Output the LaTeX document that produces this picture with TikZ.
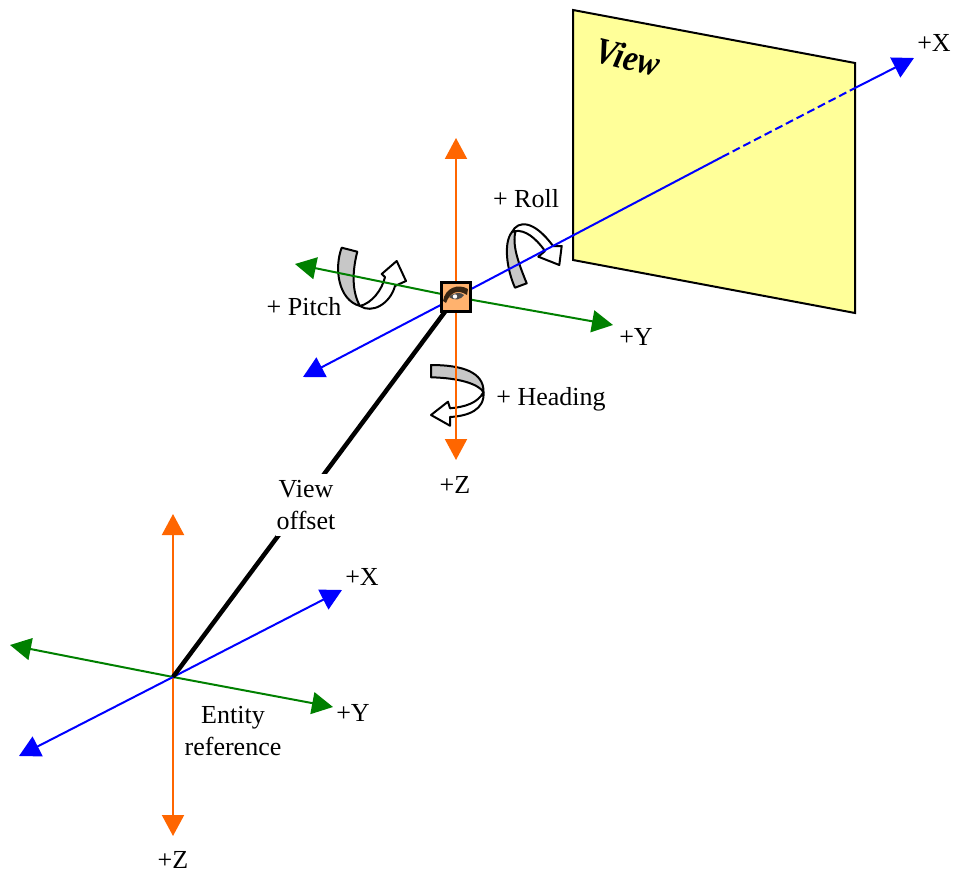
\documentclass[tikz,border=0pt]{standalone}
\usepackage{fontspec}
\setmainfont{Liberation Serif}
\usepackage{xcolor}
\usetikzlibrary{arrows.meta}
\definecolor{axisx}{RGB}{0,0,255}
\definecolor{axisy}{RGB}{0,128,0}
\definecolor{axisz}{RGB}{255,102,0}
\definecolor{panel}{RGB}{255,255,153}
\definecolor{skin}{RGB}{255,178,110}
\tikzset{
  ax/.style={line width=2pt,-{Triangle[length=21pt,width=22pt]}},
  axx/.style={ax,axisx},
  axy/.style={ax,axisy},
  axz/.style={ax,axisz},
  off/.style={line width=4.5pt,black},
  rib/.style={draw=black,line width=2pt,line join=round,fill=white},
  ribg/.style={draw=black,line width=2pt,line join=round,fill=black!22},
  lbl/.style={font=\fontsize{26}{32}\selectfont,inner sep=0pt,align=center}
}
\begin{document}
\begin{tikzpicture}[x=1pt,y=-1pt]
\useasboundingbox (0,0) rectangle (953,872);
% view panel
\coordinate (pa) at (573,10);
\coordinate (pb) at (855,63);
\coordinate (pc) at (855,313);
\coordinate (pd) at (573,260);
\draw[fill=panel,line width=2pt,line join=miter] (pa) -- (pb) -- (pc) -- (pd) -- cycle;
\node[rotate=-14,inner sep=0pt,font=\fontsize{37}{37}\selectfont\bfseries\itshape,xscale=0.88] (viewlbl) at (628,57) {View};
% pitch
\draw[rib] (360,306) .. controls (372,314) and (390,304) .. (395,286) -- (406,281) -- (396.7,261) -- (381.7,274) -- (385,277) .. controls (382,290) and (372,303) .. (360,306) -- cycle;
\draw[ribg] (341.7,247.7) -- (357.3,251.7) .. controls (352,272) and (352,292) .. (360,306) .. controls (338,300) and (334,268) .. (341.7,247.7) -- cycle;
% roll
\draw[rib] (512,232) .. controls (518,220) and (534,220) .. (553,246) -- (561.7,246) -- (559.3,265) -- (538.3,256.7) -- (545,251) .. controls (535,237) and (525,230) .. (515.5,231) -- cycle;
\draw[ribg] (512,232) .. controls (503,243) and (507,270) .. (515,287.7) -- (526.7,283.3) .. controls (518,262) and (512,245) .. (515.5,231) -- cycle;
% heading
\draw[rib] (483.5,392) .. controls (485,410) and (468,416) .. (450,417) -- (450,425.7) -- (431,415) -- (448,401.7) -- (450,408.3) .. controls (465,407) and (478,403) .. (483.5,392) -- cycle;
\draw[ribg] (431,365) .. controls (462,365) and (484,372) .. (483.5,392) .. controls (478,384) and (460,378) .. (431,377.3) -- cycle;
% end points
\coordinate (entity) at (173,677);
\coordinate (eye) at (456,297);
\coordinate (ex) at (342,590);
\coordinate (exb) at (19,756);
\coordinate (ey) at (333,707);
\coordinate (eyb) at (10,645);
\coordinate (ez) at (173,836);
\coordinate (ezb) at (173,514);
\coordinate (vx) at (914,58);
\coordinate (vxb) at (303,377);
\coordinate (vxm) at (722,157);
\coordinate (vxe) at (855,88);
\coordinate (vy) at (613,325);
\coordinate (vyb) at (295,264);
\coordinate (vz) at (456,460);
\coordinate (vzb) at (456,138);
% entity axes
\draw[axz] (entity) -- (ez);
\draw[axz] (entity) -- (ezb);
\draw[axy] (entity) -- (ey);
\draw[axy] (entity) -- (eyb);
\draw[axx] (entity) -- (ex);
\draw[axx] (entity) -- (exb);
% view axes
\draw[axz] (eye) -- (vz);
\draw[axz] (eye) -- (vzb);
\draw[axy] (eye) -- (vy);
\draw[axy] (eye) -- (vyb);
\draw[axx] (eye) -- (vxb);
\draw[axisx,line width=2pt] (eye) -- (vxm);
\draw[axisx,line width=2pt,dash pattern=on 8pt off 4pt] (vxm) -- (vxe);
\draw[axx] (vxe) -- (vx);
% offset
\draw[off] (entity) -- (eye);
\node[lbl,fill=white,inner xsep=1pt,inner ysep=6pt] (offlbl) at (306,505) {View\\offset};
% eye
\node[draw=black,line width=2.2pt,fill=skin,minimum size=29pt,inner sep=0pt] (eyebox) at (eye) {};
\fill[black!70!brown] (443,301) .. controls (445,288) and (458,283) .. (468,289) -- (467,295) .. controls (458,289) and (450,292) .. (446,303) -- cycle;
\fill[black!70] (449,297) .. controls (454,292) and (461,292) .. (464,295) .. controls (461,300) and (454,301) .. (449,297) -- cycle;
\fill[white] (455,296.5) circle (2.2pt);
% labels
\node[lbl] (xv) at (934,43) {+X};
\node[lbl] (yv) at (636,337) {+Y};
\node[lbl] (zv) at (455,485) {+Z};
\node[lbl] (rolllbl) at (526,199) {+ Roll};
\node[lbl] (pitchlbl) at (304,307) {+ Pitch};
\node[lbl] (headlbl) at (551,399) {+ Heading};
\node[lbl] (entlbl) at (233,731) {Entity\\reference};
\node[lbl] (xe) at (362,577) {+X};
\node[lbl] (ye) at (353,713) {+Y};
\node[lbl] (ze) at (173,860) {+Z};
\end{tikzpicture}
\end{document}
